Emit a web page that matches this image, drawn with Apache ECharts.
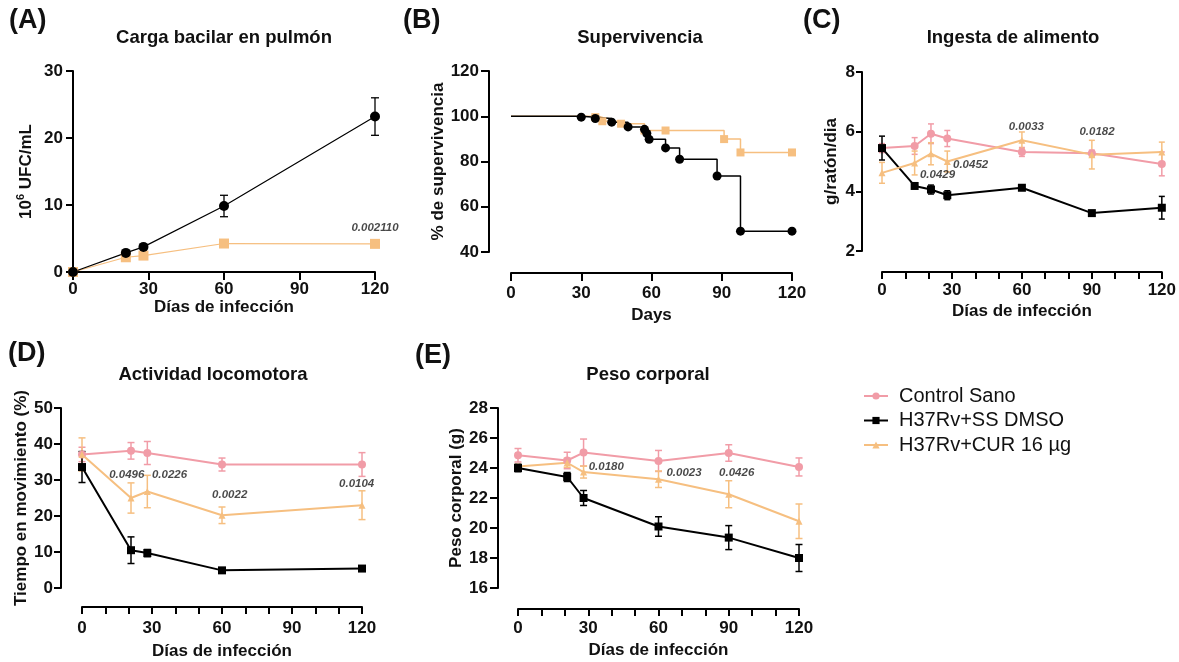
<!DOCTYPE html>
<html>
<head>
<meta charset="utf-8">
<title>Infección H37Rv y curcumina</title>
<script src="https://cdn.jsdelivr.net/npm/echarts@6/dist/echarts.min.js"></script>
<style>
  html, body { margin: 0; padding: 0; background: #ffffff; }
  #chart { width: 1179px; height: 662px; }
</style>
</head>
<body>
<div id="chart"></div>
<script>
// ---------- tick labels ----------
const dayTicks = [0, 30, 60, 90, 120];
const yTicksA = [0, 10, 20, 30];
const yTicksB = [40, 60, 80, 100, 120];
const yTicksC = [2, 4, 6, 8];
const yTicksD = [0, 10, 20, 30, 40, 50];
const yTicksE = [16, 18, 20, 22, 24, 26, 28];

// ---------- group names ----------
const grupoSano = 'Control Sano';
const grupoDMSO = 'H37Rv+SS DMSO';
const grupoCUR = 'H37Rv+CUR 16 µg';

// ---------- (A) carga bacilar en pulmón, 10^6 UFC/mL ----------
const daysA = [0, 21, 28, 60, 120];
const cargaDMSO = [0, 2.85, 3.75, 9.85, 23.2];
const cargaDMSOErr = [0, 0, 0, 1.6, 2.8];
const cargaCUR = [0, 2.2, 2.45, 4.25, 4.2];
const pTextA = ['0.002110'];
const pAtA = [[120, 6.6]];

// ---------- (B) supervivencia (Kaplan-Meier) ----------
const supDaysDMSO = [0, 30, 36, 43, 50, 57, 58, 59, 66, 72, 88, 98, 120];
const supDMSO = [100, 99.6, 99.0, 97.4, 95.3, 94.2, 92.4, 89.8, 86.0, 81.0, 73.6, 49.2, 49.2];
const supDaysCUR = [0, 36, 39, 47, 57, 66, 91, 98, 120];
const supCUR = [100, 99.6, 97.8, 96.7, 93.7, 93.7, 89.9, 84.0, 84.0];

// ---------- (C) ingesta de alimento, g/ratón/día ----------
const daysC = [0, 14, 21, 28, 60, 90, 120];
const ingestaSano = [5.45, 5.52, 5.93, 5.77, 5.32, 5.28, 4.92];
const ingestaSanoErr = [0.15, 0.28, 0.33, 0.27, 0.15, 0.1, 0.4];
const ingestaDMSO = [5.45, 4.18, 4.06, 3.87, 4.12, 3.27, 3.45];
const ingestaDMSOErr = [0.4, 0.05, 0.15, 0.15, 0.08, 0.04, 0.38];
const ingestaCUR = [4.62, 4.95, 5.26, 5.0, 5.71, 5.23, 5.32];
const ingestaCURErr = [0.35, 0.4, 0.37, 0.35, 0.28, 0.48, 0.33];
const pTextC = ['0.0429', '0.0452', '0.0033', '0.0182'];
const pAtC = [[23.8, 4.57], [38.0, 4.9], [61.9, 6.16], [92.2, 5.99]];

// ---------- (D) actividad locomotora, % tiempo en movimiento ----------
const daysD = [0, 21, 28, 60, 120];
const locoSano = [37.1, 38.1, 37.5, 34.3, 34.3];
const locoSanoErr = [2.0, 2.3, 3.2, 1.8, 3.3];
const locoDMSO = [33.6, 10.5, 9.7, 4.9, 5.4];
const locoDMSOErr = [4.3, 3.7, 1.0, 0.4, 0.7];
const locoCUR = [37.1, 25.0, 26.8, 20.2, 23.0];
const locoCURErr = [4.6, 4.2, 4.5, 2.3, 4.0];
const pTextD = ['0.0496', '0.0226', '0.0022', '0.0104'];
const pAtD = [[19.2, 31.3], [37.5, 31.3], [63.3, 25.75], [117.7, 28.8]];

// ---------- (E) peso corporal, g ----------
const daysE = [0, 21, 28, 60, 90, 120];
const pesoSano = [24.85, 24.5, 25.03, 24.47, 25.0, 24.07];
const pesoSanoErr = [0.45, 0.55, 0.9, 0.7, 0.55, 0.6];
const pesoDMSO = [24.0, 23.4, 22.0, 20.1, 19.36, 18.0];
const pesoDMSOErr = [0.25, 0.3, 0.5, 0.65, 0.8, 0.9];
const pesoCUR = [24.1, 24.35, 23.73, 23.25, 22.25, 20.45];
const pesoCURErr = [0.15, 0.3, 0.4, 0.55, 0.9, 1.15];
const pTextE = ['0.0180', '0.0023', '0.0426'];
const pAtE = [[37.7, 24.11], [70.9, 23.69], [93.4, 23.69]];

// ---------- styling ----------
const FONT = '"Liberation Sans", Arial, Helvetica, sans-serif';
const PINK = '#f19ca7';
const BLACK = '#000000';
const ORANGE = '#f6bf80';
const INK = '#111111';

function pairs(xs, ys) { return xs.map((x, i) => [x, ys[i]]); }
function triples(xs, ys, es) { return xs.map((x, i) => [x, ys[i], es[i]]); }

function valueAxis(ticks, gridIndex, o) {
  return {
    type: 'value',
    gridIndex: gridIndex,
    min: ticks[0],
    max: ticks[ticks.length - 1],
    interval: ticks[1] - ticks[0],
    offset: o.offset || 0,
    name: o.name,
    nameLocation: 'middle',
    nameGap: o.nameGap,
    nameTextStyle: Object.assign({
      fontFamily: FONT, fontWeight: 'bold', fontSize: 17, color: INK
    }, o.nameStyle || {}),
    axisLine: { show: true, onZero: false, lineStyle: { color: BLACK, width: 2 } },
    axisTick: { show: true, length: o.tick || 7, lineStyle: { color: BLACK, width: 2 } },
    minorTick: o.minor
      ? { show: true, splitNumber: 3, length: o.tick || 7, lineStyle: { color: BLACK, width: 2 } }
      : { show: false },
    axisLabel: {
      fontFamily: FONT, fontWeight: 'bold', fontSize: 17, color: INK,
      margin: o.margin
    },
    splitLine: { show: false },
    minorSplitLine: { show: false }
  };
}

function lineSeries(name, gi, data, symbol, color, size, width, extra) {
  return Object.assign({
    type: 'line',
    name: name,
    xAxisIndex: gi,
    yAxisIndex: gi,
    data: data,
    symbol: symbol,
    symbolSize: size,
    showSymbol: true,
    lineStyle: { color: color, width: width },
    itemStyle: { color: color, borderWidth: 0 },
    emphasis: { disabled: true },
    animation: false,
    z: 3
  }, extra || {});
}

// vertical error bar with caps, drawn through the grid's own scales
function errorSeries(gi, data, color, cap, width) {
  return {
    type: 'custom',
    xAxisIndex: gi,
    yAxisIndex: gi,
    data: data.filter(d => d[2] > 0),
    encode: { x: 0, y: 1 },
    silent: true,
    animation: false,
    z: 2,
    renderItem: function (params, api) {
      const x = api.value(0), y = api.value(1), e = api.value(2);
      const top = api.coord([x, y + e]);
      const bot = api.coord([x, y - e]);
      const h = cap / 2;
      const st = { stroke: color, lineWidth: width };
      return {
        type: 'group',
        children: [
          { type: 'line', shape: { x1: top[0], y1: top[1], x2: bot[0], y2: bot[1] }, style: st },
          { type: 'line', shape: { x1: top[0] - h, y1: top[1], x2: top[0] + h, y2: top[1] }, style: st },
          { type: 'line', shape: { x1: bot[0] - h, y1: bot[1], x2: bot[0] + h, y2: bot[1] }, style: st }
        ]
      };
    }
  };
}

// italic p-value annotations
function pValueSeries(gi, texts, anchors) {
  return {
    type: 'scatter',
    xAxisIndex: gi,
    yAxisIndex: gi,
    silent: true,
    animation: false,
    symbolSize: 1,
    itemStyle: { color: 'transparent' },
    data: texts.map((t, i) => ({ name: t, value: anchors[i] })),
    label: {
      show: true,
      position: 'inside',
      formatter: p => p.name,
      fontFamily: FONT, fontStyle: 'italic', fontWeight: 'bold', fontSize: 11.5, color: '#1a1a1a'
    },
    z: 5
  };
}

// KM curve: first point (start at 100 %) carries no marker
function kmData(days, vals) {
  return days.map((d, i) => i === 0 ? { value: [d, vals[i]], symbol: 'none' } : [d, vals[i]]);
}

const grids = [
  { left: 73, top: 71, width: 302, height: 201 },     // A
  { left: 511, top: 71, width: 281, height: 181 },    // B
  { left: 882, top: 72, width: 281, height: 179 },    // C
  { left: 82, top: 408, width: 280, height: 180 },    // D
  { left: 518, top: 408, width: 281, height: 180 }    // E
];

const xName = 'Días de infección';

const xAxes = [
  valueAxis(dayTicks, 0, { name: xName, nameGap: 17, margin: 9, tick: 8 }),
  valueAxis(dayTicks, 1, { name: 'Days', nameGap: 34, margin: 12, tick: 8, offset: 21 }),
  valueAxis(dayTicks, 2, { name: xName, nameGap: 31, margin: 10, tick: 7, offset: 21, minor: true }),
  valueAxis(dayTicks, 3, { name: xName, nameGap: 36, margin: 13, tick: 7, offset: 19, minor: true }),
  valueAxis(dayTicks, 4, { name: xName, nameGap: 33, margin: 11, tick: 7, offset: 21, minor: true })
];

const yAxes = [
  valueAxis(yTicksA, 0, {
    name: '10{sup|6} UFC/mL', nameGap: 36, margin: 10, tick: 7,
    nameStyle: {
      lineHeight: 22,
      rich: { sup: { fontFamily: FONT, fontWeight: 'bold', fontSize: 11, lineHeight: 11, verticalAlign: 'top', color: INK } }
    }
  }),
  valueAxis(yTicksB, 1, { name: '% de supervivencia', nameGap: 40, margin: 10, tick: 8, offset: 22 }),
  valueAxis(yTicksC, 2, { name: 'g/ratón/dia', nameGap: 22, margin: 7, tick: 6, offset: 20 }),
  valueAxis(yTicksD, 3, { name: 'Tiempo en movimiento (%)', nameGap: 30, margin: 8, tick: 7, offset: 21 }),
  valueAxis(yTicksE, 4, { name: 'Peso corporal (g)', nameGap: 33, margin: 10, tick: 8, offset: 20 })
];

const series = [
  // (C) ingesta — listed first so the legend takes its markers
  errorSeries(2, triples(daysC, ingestaSano, ingestaSanoErr), PINK, 6, 1.5),
  errorSeries(2, triples(daysC, ingestaCUR, ingestaCURErr), ORANGE, 6, 1.5),
  errorSeries(2, triples(daysC, ingestaDMSO, ingestaDMSOErr), BLACK, 6, 1.5),
  lineSeries(grupoSano, 2, pairs(daysC, ingestaSano), 'circle', PINK, 8, 2),
  lineSeries(grupoDMSO, 2, pairs(daysC, ingestaDMSO), 'rect', BLACK, 8, 2),
  lineSeries(grupoCUR, 2, pairs(daysC, ingestaCUR), 'triangle', ORANGE, 7, 2),
  pValueSeries(2, pTextC, pAtC),

  // (A) carga bacilar
  errorSeries(0, triples(daysA, cargaDMSO, cargaDMSOErr), BLACK, 8, 1.3),
  lineSeries(grupoCUR, 0, pairs(daysA, cargaCUR), 'rect', ORANGE, 10, 1.2),
  lineSeries(grupoDMSO, 0, pairs(daysA, cargaDMSO), 'circle', BLACK, 10, 1.2),
  pValueSeries(0, pTextA, pAtA),

  // (B) supervivencia
  lineSeries(grupoCUR, 1, kmData(supDaysCUR, supCUR), 'rect', ORANGE, 8, 1.5, { step: 'end' }),
  lineSeries(grupoDMSO, 1, kmData(supDaysDMSO, supDMSO), 'circle', BLACK, 9, 1.5, { step: 'end' }),

  // (D) actividad locomotora
  errorSeries(3, triples(daysD, locoSano, locoSanoErr), PINK, 7, 1.5),
  errorSeries(3, triples(daysD, locoCUR, locoCURErr), ORANGE, 7, 1.5),
  errorSeries(3, triples(daysD, locoDMSO, locoDMSOErr), BLACK, 7, 1.5),
  lineSeries(grupoSano, 3, pairs(daysD, locoSano), 'circle', PINK, 8, 2),
  lineSeries(grupoCUR, 3, pairs(daysD, locoCUR), 'triangle', ORANGE, 7, 2),
  lineSeries(grupoDMSO, 3, pairs(daysD, locoDMSO), 'rect', BLACK, 8, 2),
  pValueSeries(3, pTextD, pAtD),

  // (E) peso corporal
  errorSeries(4, triples(daysE, pesoSano, pesoSanoErr), PINK, 7, 1.5),
  errorSeries(4, triples(daysE, pesoCUR, pesoCURErr), ORANGE, 7, 1.5),
  errorSeries(4, triples(daysE, pesoDMSO, pesoDMSOErr), BLACK, 7, 1.5),
  lineSeries(grupoSano, 4, pairs(daysE, pesoSano), 'circle', PINK, 8, 2),
  lineSeries(grupoCUR, 4, pairs(daysE, pesoCUR), 'triangle', ORANGE, 7, 2),
  lineSeries(grupoDMSO, 4, pairs(daysE, pesoDMSO), 'rect', BLACK, 8, 2),
  pValueSeries(4, pTextE, pAtE)
];

function heading(text, x, y) {
  return {
    type: 'text', x: x, y: y, silent: true,
    style: { text: text, fill: INK, font: 'bold 18.5px ' + FONT, textAlign: 'center', textVerticalAlign: 'middle' }
  };
}
function panelTag(text, x, y) {
  return {
    type: 'text', x: x, y: y, silent: true,
    style: { text: text, fill: INK, font: 'bold 27px ' + FONT, textAlign: 'left', textVerticalAlign: 'middle' }
  };
}

const option = {
  backgroundColor: '#ffffff',
  animation: false,
  grid: grids,
  xAxis: xAxes,
  yAxis: yAxes,
  series: series,
  legend: {
    orient: 'vertical',
    left: 858,
    top: 381,
    itemWidth: 24,
    itemHeight: 9,
    itemGap: 4.5,
    data: [grupoSano, grupoDMSO, grupoCUR],
    textStyle: { fontFamily: FONT, fontSize: 20, color: INK, lineHeight: 20, padding: [0, 0, 0, 6] }
  },
  graphic: [
    panelTag('(A)', 9, 21),
    panelTag('(B)', 403, 21),
    panelTag('(C)', 803, 21),
    panelTag('(D)', 8, 354),
    panelTag('(E)', 415, 356),
    heading('Carga bacilar en pulmón', 224, 38),
    heading('Supervivencia', 640, 38),
    heading('Ingesta de alimento', 1013, 38),
    heading('Actividad locomotora', 213, 375),
    heading('Peso corporal', 648, 375)
  ]
};

const chart = echarts.init(document.getElementById('chart'));
chart.setOption(option);
</script>
</body>
</html>
